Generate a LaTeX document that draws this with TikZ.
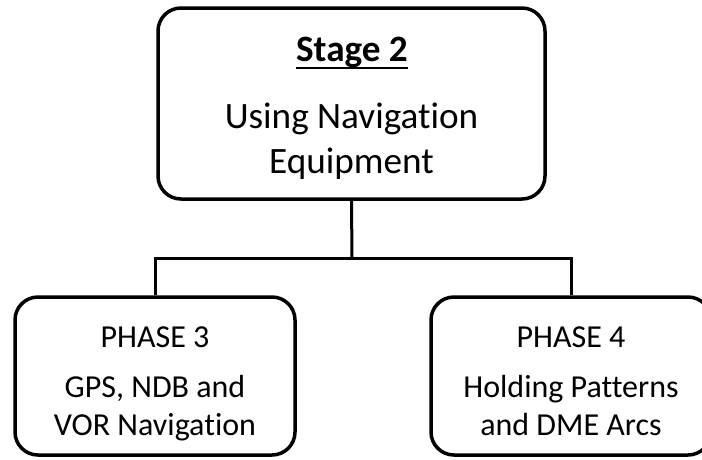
\documentclass[tikz,border=0pt]{standalone}
\usepackage{fontspec}
\setmainfont{Carlito}[Ligatures=NoCommon]
\usetikzlibrary{calc}
\tikzset{
  box/.style={draw=black, line width=3.5pt, rounded corners=23pt, fill=white, inner sep=0pt},
  link/.style={draw=black, line width=3pt},
  bigtext/.style={anchor=base, inner sep=0pt, font=\fontsize{37.2}{44}\selectfont},
  smalltext/.style={anchor=base, inner sep=0pt, font=\fontsize{32}{39}\selectfont},
}
\begin{document}
\begin{tikzpicture}[x=1pt,y=-1pt]
\clip (0,0) rectangle (702,459);
\useasboundingbox (0,0) rectangle (702,459);
\fill[white] (0,0) rectangle (702,459);
% boxes
\node[box, minimum width=387pt, minimum height=191pt] (top) at (351.5,103.5) {};
\node[box, minimum width=280pt, minimum height=158pt] (left) at (155,376) {};
\node[box, minimum width=280pt, minimum height=158pt] (right) at (571,376) {};
% connectors
\coordinate (bus) at (352,258);
\draw[link] (top.south) -- (bus);
\draw[link] (left.north) |- (bus) -| (right.north);
% top texts
\node[bigtext, font=\fontsize{37.2}{44}\bfseries] (s2) at (352,61) {Stage 2};
\draw[line width=2.2pt] ($(s2.base west)+(0,7)$) -- ($(s2.base east)+(0,7)$);
\node[bigtext] (t1) at (351.5,128) {Using Navigation};
\node[bigtext] (t2) at (351.5,173) {Equipment};
% left texts
\node[smalltext] (p3) at (155,347) {PHASE 3};
\node[smalltext] (l1) at (155,397) {GPS, NDB and};
\node[smalltext] (l2) at (155,435) {VOR Navigation};
% right texts
\node[smalltext] (p4) at (571,347) {PHASE 4};
\node[smalltext] (r1) at (571,397) {Holding Patterns};
\node[smalltext] (r2) at (571,435) {and DME Arcs};
\end{tikzpicture}
\end{document}
